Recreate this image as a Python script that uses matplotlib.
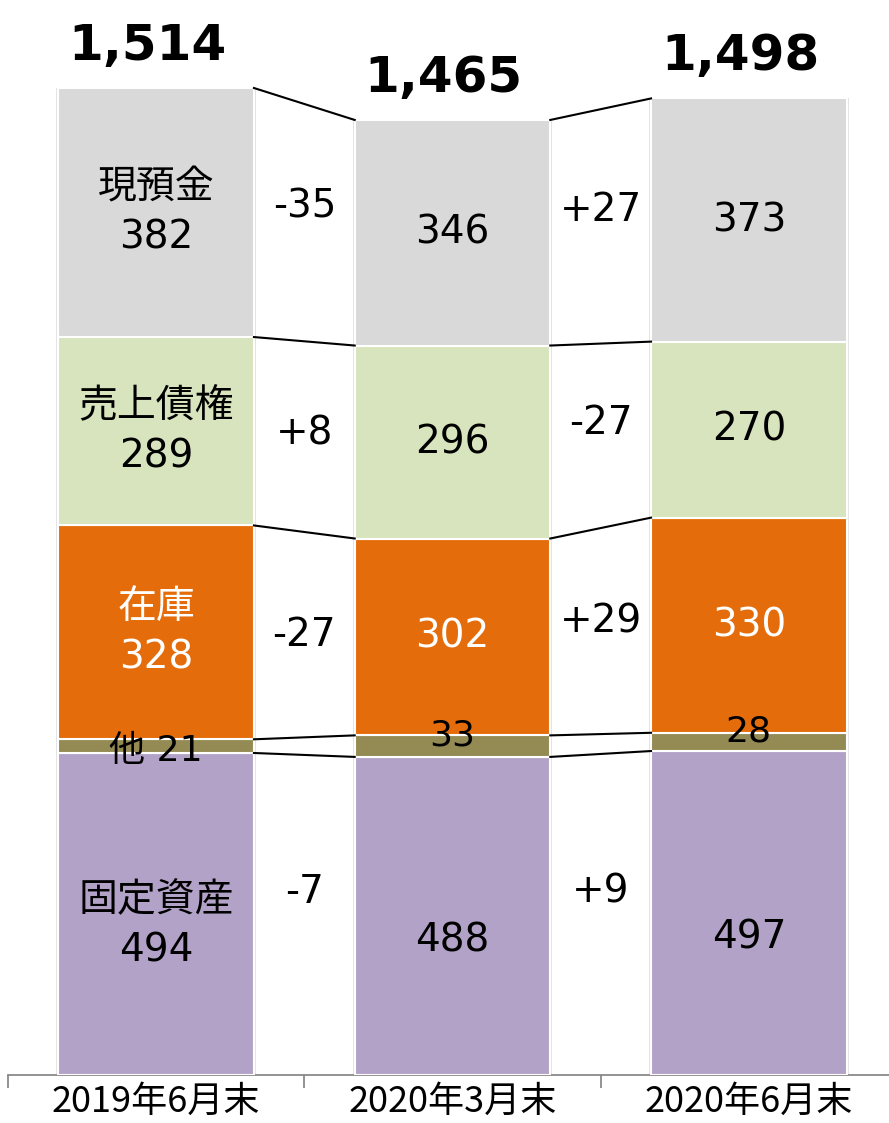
import matplotlib.pyplot as plt
import numpy as np

# data (bottom -> top)
periods = ['2019年6月末', '2020年3月末', '2020年6月末']
names = ['固定資産', '他', '在庫', '売上債権', '現預金']
fixed = [494, 488, 497]
other = [21, 33, 28]
stock = [328, 302, 330]
recv = [289, 296, 270]
cash = [382, 346, 373]
totals = [1514, 1465, 1498]
# changes shown between bars (cash, receivables, stock, fixed)
delta_1 = ['-35', '+8', '-27', '-7']
delta_2 = ['+27', '-27', '+29', '+9']

colors = ['#b3a2c7', '#948a54', '#e46c0a', '#d7e4bd', '#d9d9d9']
fam = ['DejaVu Sans', 'Noto Sans CJK JP']
plt.rcParams['font.family'] = fam

fig = plt.figure(figsize=(8.89, 11.23), dpi=100)
ax = fig.add_axes([0.009, 0.0427, 1.0, 0.9573])

series = [fixed, other, stock, recv, cash]
x = np.arange(len(periods))
w = 0.66
bottom = np.zeros(3)
bounds = [bottom.copy()]
for vals, c in zip(series, colors):
    ax.bar(x, vals, w, bottom=bottom, color=c, edgecolor='white', linewidth=1.5, zorder=3)
    # soft shadow outline
    ax.bar(x, vals, w + 0.014, bottom=bottom, color='#e3e3e3', zorder=2)
    bottom = bottom + np.array(vals)
    bounds.append(bottom.copy())
bounds = np.array(bounds)

# connector lines between bars
for i in range(2):
    for k in range(1, 6):
        ax.plot([x[i] + w / 2, x[i + 1] - w / 2], [bounds[k][i], bounds[k][i + 1]],
                color='black', lw=1.5, zorder=4)

fs = 28
# bar labels
for i in range(3):
    for k, vals in enumerate(series):
        lo, hi = bounds[k][i], bounds[k + 1][i]
        yc = (lo + hi) / 2
        tc = 'white' if k == 2 else 'black'
        if k == 1:
            if i == 0:
                ax.text(x[i], yc - 8, '他 21', ha='center', va='center', fontsize=fs - 2, color=tc, zorder=5)
            else:
                ax.text(x[i], yc + 16, str(vals[i]), ha='center', va='center', fontsize=fs - 2, color=tc, zorder=5)
            continue
        if k == 0:
            yc -= 17 if i == 0 else 37
        if i == 0:
            ax.text(x[i], yc, names[k] + '\n' + str(vals[i]), ha='center', va='center',
                    fontsize=fs, color=tc, linespacing=1.4, zorder=5)
        else:
            ax.text(x[i], yc, str(vals[i]), ha='center', va='center', fontsize=fs, color=tc, zorder=5)

# change labels in the gaps
seg_idx = [4, 3, 2, 0]
shift = {4: 25, 3: 5, 2: 0, 0: 35}
for i, deltas in enumerate([delta_1, delta_2]):
    for d, k in zip(deltas, seg_idx):
        c1 = (bounds[k][i] + bounds[k + 1][i]) / 2
        c2 = (bounds[k][i + 1] + bounds[k + 1][i + 1]) / 2
        yc = (c1 + c2) / 2 + shift[k] + (15 if (i == 1 and k in (3, 2)) else 0)
        ax.text(x[i] + 0.5, yc, d, ha='center', va='center', fontsize=fs, zorder=5)

# totals
for i in range(3):
    ax.text(x[i] - 0.03, totals[i] + 28, f'{totals[i]:,}', ha='center', va='bottom',
            fontsize=36, fontweight='bold', family='DejaVu Sans')

ax.set_xlim(-0.5, 2.5)
ax.set_ylim(0, 1649)
for s in ['top', 'right', 'left']:
    ax.spines[s].set_visible(False)
ax.spines['bottom'].set_color('#808080')
ax.spines['bottom'].set_linewidth(1.2)
ax.set_yticks([])
ax.set_xticks(x)
ax.set_xticklabels(periods, fontsize=26, family='Noto Sans CJK JP')
ax.tick_params(axis='x', which='major', length=0, pad=6)
ax.set_xticks([-0.5, 0.5, 1.5, 2.5], minor=True)
ax.tick_params(axis='x', which='minor', length=9, color='#808080', width=1.2)

fig.savefig('out.png', dpi=100)
